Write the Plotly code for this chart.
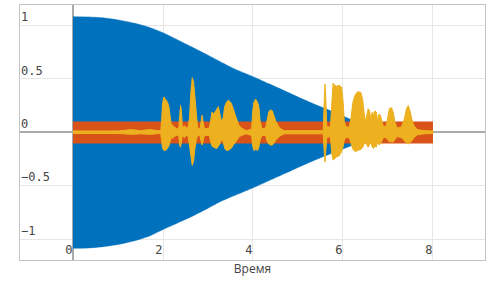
import plotly.graph_objects as go

# Blue signal envelope
env_t = [0.0, 0.35, 0.67, 1.0, 1.41, 1.7, 2.0, 2.53, 3.0, 3.27, 3.6, 4.0, 4.37, 4.74, 5.1, 5.49, 5.85, 6.23, 6.6, 7.0, 7.5, 8.0]
env_hi = [1.08, 1.078, 1.07, 1.05, 1.015, 0.98, 0.93, 0.82, 0.72, 0.66, 0.59, 0.52, 0.45, 0.38, 0.31, 0.24, 0.18, 0.11, 0.06, 0.03, 0.01, 0.0]
env_lo = [-1.085, -1.082, -1.07, -1.05, -1.01, -0.97, -0.91, -0.81, -0.71, -0.65, -0.59, -0.52, -0.45, -0.38, -0.31, -0.24, -0.18, -0.12, -0.06, -0.03, -0.01, 0.0]

# Orange noise band
band_t = [0.0, 8.0]
band_hi = [0.10, 0.10]
band_lo = [-0.105, -0.105]

# Yellow speech waveform envelope
sp_t = [0.0, 1.0, 1.3, 1.5, 1.7, 1.95, 1.97, 1.99, 2.02, 2.06, 2.10, 2.13, 2.16, 2.19, 2.22, 2.24, 2.26, 2.30, 2.35, 2.37, 2.39, 2.41, 2.43,
        2.48, 2.52, 2.56, 2.59, 2.62, 2.65, 2.68, 2.71, 2.74, 2.77, 2.82, 2.85, 2.87, 2.89, 2.92, 3.03, 3.06, 3.09, 3.13, 3.17, 3.20,
        3.23, 3.26, 3.30, 3.34, 3.37, 3.41, 3.45, 3.48, 3.52, 3.56, 3.60, 3.64, 3.68, 3.74, 3.85, 3.97, 3.99, 4.02, 4.06, 4.10, 4.13, 4.16,
        4.20, 4.28, 4.32, 4.35, 4.39, 4.43, 4.47, 4.51, 4.56, 4.62, 4.70, 5.56, 5.58, 5.60, 5.62, 5.64, 5.72, 5.75, 5.78, 5.81, 5.86, 5.92, 5.97,
        6.00, 6.03, 6.07, 6.14, 6.18, 6.22, 6.27, 6.33, 6.40, 6.44, 6.47, 6.50, 6.53, 6.56, 6.59, 6.62, 6.65, 6.68, 6.71, 6.74, 6.77, 6.80, 6.83, 6.86,
        6.90, 6.96, 6.99, 7.03, 7.08, 7.12, 7.15, 7.20, 7.30, 7.36, 7.41, 7.45, 7.49, 7.53, 7.58, 7.65, 7.80, 8.00]
sp_hi = [0.012, 0.012, 0.025, 0.015, 0.025, 0.012, 0.12, 0.27, 0.33, 0.31, 0.28, 0.24, 0.14, 0.05, 0.07, 0.03, 0.05, 0.03, 0.04, 0.20, 0.25, 0.20, 0.04,
         0.06, 0.04, 0.05, 0.14, 0.38, 0.51, 0.47, 0.30, 0.12, 0.04, 0.03, 0.12, 0.16, 0.10, 0.03, 0.04, 0.12, 0.19, 0.17, 0.20, 0.22,
         0.24, 0.18, 0.10, 0.14, 0.24, 0.28, 0.30, 0.29, 0.27, 0.22, 0.17, 0.11, 0.07, 0.04, 0.015, 0.03, 0.18, 0.28, 0.31, 0.28, 0.24, 0.10,
         0.03, 0.04, 0.14, 0.19, 0.21, 0.20, 0.15, 0.10, 0.06, 0.03, 0.015, 0.015, 0.25, 0.45, 0.30, 0.05, 0.05, 0.30, 0.46, 0.44, 0.43, 0.44, 0.42,
         0.30, 0.10, 0.05, 0.05, 0.14, 0.28, 0.35, 0.38, 0.37, 0.30, 0.18, 0.10, 0.16, 0.22, 0.20, 0.12, 0.19, 0.16, 0.20, 0.19, 0.10, 0.17, 0.16, 0.12,
         0.05, 0.06, 0.15, 0.22, 0.23, 0.18, 0.10, 0.04, 0.05, 0.12, 0.22, 0.25, 0.20, 0.12, 0.06, 0.025, 0.015, 0.012]
sp_lo = [-0.012, -0.012, -0.02, -0.015, -0.02, -0.012, -0.08, -0.15, -0.17, -0.17, -0.15, -0.13, -0.09, -0.04, -0.06, -0.03, -0.04, -0.03, -0.03, -0.12, -0.14, -0.11, -0.03,
         -0.05, -0.03, -0.04, -0.09, -0.22, -0.31, -0.27, -0.15, -0.07, -0.03, -0.03, -0.09, -0.12, -0.08, -0.03, -0.03, -0.09, -0.13, -0.14, -0.15, -0.15,
         -0.13, -0.11, -0.07, -0.09, -0.15, -0.17, -0.17, -0.16, -0.15, -0.12, -0.10, -0.08, -0.05, -0.03, -0.015, -0.03, -0.12, -0.17, -0.16, -0.17, -0.14, -0.07,
         -0.03, -0.03, -0.09, -0.11, -0.12, -0.12, -0.10, -0.07, -0.05, -0.03, -0.015, -0.015, -0.17, -0.28, -0.18, -0.05, -0.04, -0.20, -0.26, -0.25, -0.23, -0.22, -0.18,
         -0.14, -0.07, -0.05, -0.05, -0.10, -0.16, -0.18, -0.17, -0.16, -0.14, -0.11, -0.08, -0.12, -0.14, -0.12, -0.09, -0.14, -0.15, -0.13, -0.14, -0.08, -0.12, -0.11, -0.09,
         -0.05, -0.05, -0.07, -0.09, -0.09, -0.09, -0.07, -0.04, -0.05, -0.08, -0.10, -0.11, -0.10, -0.08, -0.05, -0.025, -0.015, -0.012]

x_ticks = [0, 2, 4, 6, 8]
y_ticks = [-1, -0.5, 0, 0.5, 1]
y_tick_text = ["\u22121", "\u22120.5", "0", "0.5", "1"]

BLUE = "#0072BD"
ORANGE = "#D95319"
YELLOW = "#EDB120"

fig = go.Figure()

def poly(t, hi, lo):
    return list(t) + list(t)[::-1], list(hi) + list(lo)[::-1]

px_, py_ = poly(env_t, env_hi, env_lo)
fig.add_trace(go.Scatter(x=px_, y=py_, fill="toself", fillcolor=BLUE, mode="lines",
                         line=dict(color=BLUE, width=0.5, shape="spline", smoothing=0.6), hoverinfo="skip"))
px_, py_ = poly(band_t, band_hi, band_lo)
fig.add_trace(go.Scatter(x=px_, y=py_, fill="toself", fillcolor=ORANGE, mode="lines",
                         line=dict(color=ORANGE, width=0), hoverinfo="skip"))
px_, py_ = poly(sp_t, sp_hi, sp_lo)
fig.add_trace(go.Scatter(x=px_, y=py_, fill="toself", fillcolor=YELLOW, mode="lines",
                         line=dict(color=YELLOW, width=1), hoverinfo="skip"))

axis_common = dict(showgrid=True, gridcolor="#e6e6e6", gridwidth=1,
                   zeroline=True, zerolinecolor="#aaaaaa", zerolinewidth=2,
                   showline=True, linecolor="#c4c4c4", linewidth=1, mirror=True,
                   ticks="", tickfont=dict(family="DejaVu Sans Mono", size=12, color="#444"))

fig.update_layout(
    width=495, height=285,
    margin=dict(l=20, r=10, t=5, b=25),
    paper_bgcolor="white", plot_bgcolor="white",
    showlegend=False,
    xaxis=dict(range=[-1.178, 9.156], tickvals=x_ticks, ticktext=[str(v) for v in x_ticks],
               ticklabelposition="inside left",
               title=dict(text="Время", font=dict(family="Open Sans", size=12, color="#444"), standoff=8),
               **axis_common),
    yaxis=dict(range=[-1.195, 1.19], tickvals=y_ticks, ticktext=y_tick_text,
               ticklabelposition="inside top", **axis_common),
)

fig.write_html("out.html")
